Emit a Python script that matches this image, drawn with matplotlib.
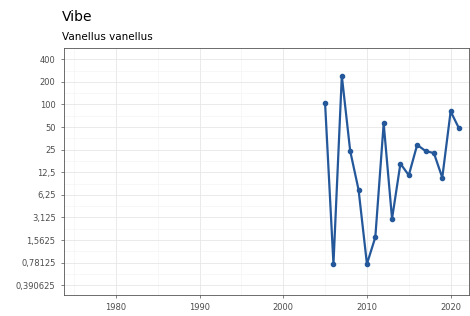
import numpy as np
import matplotlib
matplotlib.use("Agg")
import matplotlib.pyplot as plt

years = [2005, 2006, 2007, 2008, 2009, 2010, 2011, 2012, 2013, 2014,
         2015, 2016, 2017, 2018, 2019, 2020, 2021]
counts = [104, 0.75, 240, 24, 7.3, 0.75, 1.7, 56, 3.0, 16.3,
          11.4, 29, 24, 22.5, 10.6, 81, 48]

y_ticks = [400, 200, 100, 50, 25, 12.5, 6.25, 3.125, 1.5625, 0.78125, 0.390625]
y_labels = ["400", "200", "100", "50", "25", "12,5", "6,25", "3,125",
            "1,5625", "0,78125", "0,390625"]
x_ticks = [1980, 1990, 2000, 2010, 2020]

fig = plt.figure(figsize=(4.7, 3.16), dpi=100)
ax = fig.add_axes([0.136, 0.066, 0.862, 0.782])

ax.set_yscale("log", base=2)
ax.set_xlim(1973.8, 2022.2)
ax.set_ylim(0.390625 * 2 ** (-10 / 22.7), 400 * 2 ** (10 / 22.7))

ax.set_yticks(y_ticks)
ax.set_yticklabels(y_labels)
ax.set_yticks([t * np.sqrt(2) for t in y_ticks], minor=True)
ax.yaxis.set_minor_formatter(plt.NullFormatter())
ax.set_xticks(x_ticks)
ax.set_xticks([1975, 1985, 1995, 2005, 2015], minor=True)

ax.grid(True, which="major", color="#e6e6e6", lw=0.6)
ax.grid(True, which="minor", color="#f2f2f2", lw=0.4)
ax.set_axisbelow(True)
for s in ax.spines.values():
    s.set_color("#555555")
    s.set_linewidth(0.6)
ax.tick_params(which="major", labelsize=6, colors="#4d4d4d", length=2.5, width=0.5)
ax.tick_params(which="minor", length=0)

ax.plot(years, counts, color="#24589a", lw=1.6, marker="o", ms=3.0)

fig.text(0.132, 0.935, "Vibe", fontsize=10, color="black")
fig.text(0.132, 0.875, "Vanellus vanellus", fontsize=7.5, color="black")

fig.savefig("out.png", dpi=100)
